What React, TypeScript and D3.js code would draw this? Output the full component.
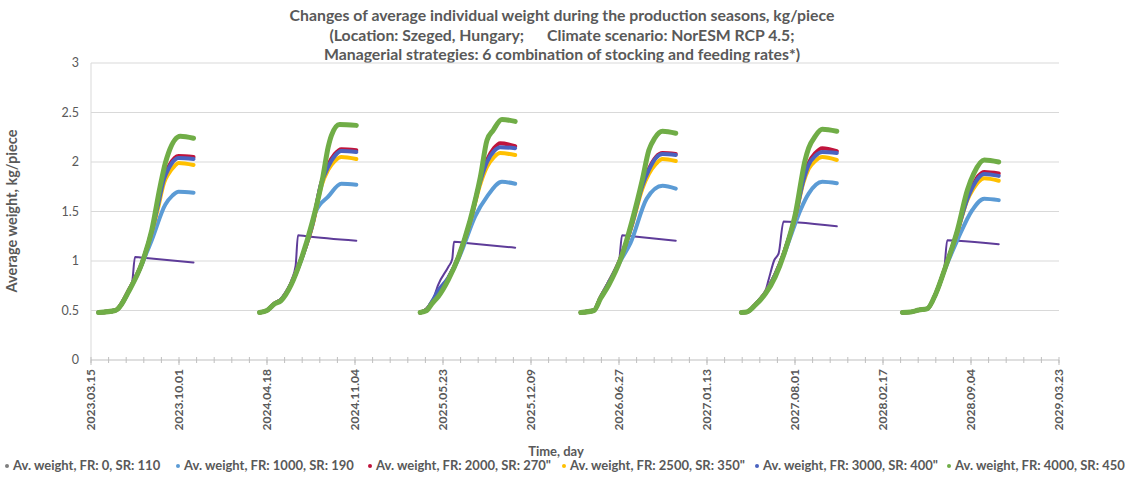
import React from 'react';
import * as d3 from 'd3';

// chart values
const seriesNames = [
  'Av. weight, FR: 0, SR: 110',
  'Av. weight, FR: 1000, SR: 190',
  'Av. weight, FR: 2000, SR: 270"',
  'Av. weight, FR: 2500, SR: 350"',
  'Av. weight, FR: 3000, SR: 400"',
  'Av. weight, FR: 4000, SR: 450"',
];
const seriesColors = ['#5e3c99', '#5b9bd5', '#c0143c', '#ffc000', '#4a63c0', '#70ad47'];
const markerColors = ['#7f7f7f', '#5b9bd5', '#c0143c', '#ffc000', '#4a63c0', '#70ad47'];

// first day of every season (1 April), counted from 2023.03.15
const seasonStartDays = [17, 383, 748, 1113, 1478, 1844];

// [day within season, kg/piece], one list per season
const fr0 = [
  [[0, 0.48], [38, 0.5], [72, 0.72], [77, 0.8], [83, 1.04], [96, 1.035], [216, 0.985]],
  [[0, 0.48], [17, 0.5], [34, 0.57], [49, 0.61], [72, 0.8], [82, 0.95], [87.5, 1.26], [106, 1.25], [220, 1.205]],
  [[0, 0.48], [15, 0.51], [27, 0.58], [41, 0.76], [64, 0.94], [73, 1.02], [77, 1.195], [110, 1.18], [216, 1.135]],
  [[0, 0.48], [30, 0.5], [45, 0.63], [64, 0.8], [83, 0.96], [87.5, 1.01], [94, 1.26], [117, 1.25], [216, 1.205]],
  [[0, 0.48], [12.5, 0.485], [32, 0.56], [55, 0.7], [62, 0.81], [75, 1.01], [85, 1.08], [96, 1.4], [130, 1.39], [217, 1.35]],
  [[0, 0.48], [19, 0.485], [37.5, 0.505], [57, 0.52], [76, 0.67], [90, 0.81], [96, 0.95], [102, 1.21], [125, 1.205], [219, 1.17]],
];
const fr1000 = [
  [[0, 0.48], [38, 0.5], [72, 0.72], [99, 0.97], [110, 1.09], [121, 1.21], [152, 1.57], [168, 1.66], [182, 1.7], [216, 1.69]],
  [[0, 0.48], [17, 0.5], [34, 0.57], [49, 0.61], [72, 0.77], [94, 1.0], [106, 1.16], [128, 1.5], [156, 1.65], [186, 1.78], [220, 1.77]],
  [[0, 0.48], [15, 0.51], [27, 0.58], [41, 0.66], [64, 0.82], [87, 1.02], [98, 1.14], [125, 1.45], [152, 1.65], [186, 1.8], [216, 1.78]],
  [[0, 0.48], [30, 0.5], [45, 0.63], [64, 0.78], [90, 1.0], [113, 1.18], [150, 1.63], [186, 1.76], [216, 1.73]],
  [[0, 0.48], [12.5, 0.485], [32, 0.56], [55, 0.68], [77, 0.86], [100, 1.1], [114.5, 1.28], [135, 1.52], [153, 1.68], [184, 1.8], [217, 1.785]],
  [[0, 0.48], [19, 0.485], [37.5, 0.505], [57, 0.52], [76, 0.67], [98, 0.93], [125, 1.21], [159, 1.515], [186, 1.63], [219, 1.615]],
];
const fr2000 = [
  [[0, 0.48], [38, 0.5], [72, 0.73], [99, 0.98], [121, 1.3], [135, 1.56], [149, 1.84], [159, 1.95], [173, 2.04], [182, 2.06], [216, 2.05]],
  [[0, 0.48], [17, 0.5], [34, 0.57], [49, 0.61], [72, 0.77], [94, 1.01], [121, 1.38], [140, 1.78], [156, 1.97], [171, 2.08], [186, 2.13], [220, 2.12]],
  [[0, 0.48], [15, 0.51], [27, 0.58], [41, 0.66], [64, 0.82], [87, 1.04], [113.5, 1.4], [137, 1.82], [152, 2.02], [168, 2.14], [182, 2.19], [216, 2.16]],
  [[0, 0.48], [30, 0.5], [45, 0.63], [64, 0.78], [90, 1.02], [117, 1.38], [140, 1.76], [155, 1.93], [171, 2.05], [186, 2.09], [216, 2.08]],
  [[0, 0.48], [12.5, 0.485], [32, 0.56], [55, 0.68], [77, 0.86], [100, 1.12], [123, 1.46], [141, 1.82], [153, 1.99], [168, 2.09], [184, 2.14], [217, 2.11]],
  [[0, 0.48], [19, 0.485], [37.5, 0.505], [57, 0.52], [76, 0.67], [98, 0.94], [125, 1.3], [148, 1.64], [160, 1.76], [173, 1.86], [186, 1.9], [219, 1.885]],
];
const fr2500 = [
  [[0, 0.48], [38, 0.5], [72, 0.73], [99, 0.98], [121, 1.29], [135, 1.53], [149, 1.79], [159, 1.88], [173, 1.96], [182, 1.99], [216, 1.97]],
  [[0, 0.48], [17, 0.5], [34, 0.57], [49, 0.61], [72, 0.77], [94, 1.01], [121, 1.37], [140, 1.75], [156, 1.92], [171, 2.01], [186, 2.05], [220, 2.03]],
  [[0, 0.48], [15, 0.51], [27, 0.58], [41, 0.66], [64, 0.82], [87, 1.04], [113.5, 1.39], [137, 1.78], [152, 1.95], [168, 2.05], [182, 2.09], [216, 2.07]],
  [[0, 0.48], [30, 0.5], [45, 0.63], [64, 0.78], [90, 1.02], [117, 1.37], [140, 1.73], [155, 1.88], [171, 1.98], [186, 2.03], [216, 2.01]],
  [[0, 0.48], [12.5, 0.485], [32, 0.56], [55, 0.68], [77, 0.86], [100, 1.12], [123, 1.45], [141, 1.79], [153, 1.93], [168, 2.01], [184, 2.05], [217, 2.02]],
  [[0, 0.48], [19, 0.485], [37.5, 0.505], [57, 0.52], [76, 0.67], [98, 0.94], [125, 1.29], [148, 1.62], [160, 1.72], [173, 1.8], [186, 1.835], [219, 1.81]],
];
const fr3000 = [
  [[0, 0.48], [38, 0.5], [72, 0.73], [99, 0.98], [121, 1.3], [135, 1.56], [149, 1.83], [159, 1.93], [173, 2.02], [182, 2.04], [216, 2.03]],
  [[0, 0.48], [17, 0.5], [34, 0.57], [49, 0.61], [72, 0.77], [94, 1.01], [121, 1.38], [140, 1.78], [156, 1.95], [171, 2.06], [186, 2.11], [220, 2.1]],
  [[0, 0.48], [15, 0.51], [27, 0.59], [41, 0.7], [64, 0.83], [87, 1.04], [113.5, 1.4], [137, 1.81], [152, 2.0], [168, 2.11], [182, 2.15], [216, 2.14]],
  [[0, 0.48], [30, 0.5], [45, 0.63], [64, 0.78], [90, 1.02], [117, 1.38], [140, 1.76], [155, 1.92], [171, 2.04], [186, 2.08], [216, 2.07]],
  [[0, 0.48], [12.5, 0.485], [32, 0.56], [55, 0.68], [77, 0.86], [100, 1.12], [123, 1.46], [141, 1.81], [153, 1.97], [168, 2.06], [184, 2.1], [217, 2.09]],
  [[0, 0.48], [19, 0.485], [37.5, 0.505], [57, 0.52], [76, 0.67], [98, 0.94], [125, 1.3], [148, 1.63], [160, 1.75], [173, 1.84], [186, 1.88], [219, 1.86]],
];
const fr4000 = [
  [[0, 0.48], [38, 0.5], [72, 0.72], [99, 0.98], [121, 1.31], [140, 1.75], [152, 1.99], [159, 2.09], [186, 2.26], [216, 2.24]],
  [[0, 0.48], [17, 0.5], [34, 0.566], [49, 0.6], [72, 0.76], [94, 1.01], [121, 1.41], [144, 1.85], [156, 2.15], [163.5, 2.27], [182, 2.38], [220, 2.37]],
  [[0, 0.48], [15, 0.5], [27, 0.57], [41, 0.64], [64, 0.81], [87, 1.04], [113.5, 1.41], [137, 1.85], [152, 2.22], [166, 2.32], [186, 2.43], [216, 2.41]],
  [[0, 0.48], [30, 0.5], [45, 0.62], [64, 0.76], [90, 1.01], [117, 1.41], [140, 1.82], [155, 2.12], [168, 2.24], [186, 2.31], [216, 2.29]],
  [[0, 0.48], [12.5, 0.485], [32, 0.555], [55, 0.67], [77, 0.84], [100, 1.11], [123, 1.48], [145, 2.02], [153, 2.14], [168, 2.26], [184, 2.33], [217, 2.31]],
  [[0, 0.48], [19, 0.485], [37.5, 0.505], [57, 0.52], [76, 0.67], [98, 0.94], [125, 1.31], [148, 1.72], [162.5, 1.885], [186, 2.02], [219, 2.0]],
];
const seriesData = [fr0, fr1000, fr2000, fr2500, fr3000, fr4000];
const strokeWidths = [2, 4, 4, 4, 4, 5];

const yTicks = [0, 0.5, 1, 1.5, 2, 2.5, 3];
const xTickDays = [0, 200, 400, 600, 800, 1000, 1200, 1400, 1600, 1800, 2000, 2200];
const titleLines = [
  'Changes of average individual weight during the production seasons, kg/piece',
  '(Location: Szeged, Hungary;      Climate scenario: NorESM RCP 4.5;',
  'Managerial strategies: 6 combination of stocking and feeding rates*)',
];

const W = 1125;
const H = 479;
const baseDate = new Date(2023, 2, 15);
const fmt = d3.timeFormat('%Y.%m.%d');
const font = 'Lato, "Open Sans", sans-serif';
const textColor = '#595959';

export default function App() {
  const x = d3.scaleLinear().domain([0, 2200]).range([91, 1059]);
  const y = d3.scaleLinear().domain([0, 3]).range([360, 63]);
  const minorDays = d3.range(0, 2201, 40);

  const line = d3.line<number[]>()
    .x(d => x(d[0]))
    .y(d => y(d[1]))
    .curve(d3.curveMonotoneX);

  // legend entry left edges
  const legendX = [4, 175, 367, 561, 754, 946];

  return (
    <svg width={W} height={H} style={{ position: 'absolute', left: 0, top: 0, background: '#fff' }}
      fontFamily={font}>
      {titleLines.map((t, i) => (
        <text key={i} x={562} y={21 + i * 19.5} textAnchor="middle" fontSize={15.8} fontWeight="bold" fill={textColor}
          style={{ whiteSpace: 'pre' }}>{t}</text>
      ))}

      {yTicks.map(t => (
        <g key={t}>
          {t > 0 && <line x1={91} x2={1059} y1={y(t)} y2={y(t)} stroke="#d9d9d9" strokeWidth={1} />}
          <text x={79} y={y(t)} dy="0.35em" textAnchor="end" fontSize={12.5} fill={textColor}>{t}</text>
        </g>
      ))}
      <line x1={91} x2={91} y1={63} y2={360} stroke="#d9d9d9" />
      <line x1={91} x2={1059} y1={360} y2={360} stroke="#bfbfbf" />
      {minorDays.map(d => (
        <line key={'m' + d} x1={x(d)} x2={x(d)} y1={357} y2={363} stroke="#bfbfbf" />
      ))}
      {xTickDays.map(d => (
        <g key={d}>
          <line x1={x(d)} x2={x(d)} y1={360} y2={365} stroke="#bfbfbf" />
          <text transform={`translate(${x(d)},369) rotate(-90)`} dy="0.35em" textAnchor="end" fontSize={12}
            fill={textColor} fontWeight="bold">{fmt(d3.timeDay.offset(baseDate, d))}</text>
        </g>
      ))}

      <text transform="translate(17,211) rotate(-90)" textAnchor="middle" fontSize={14.5} fontWeight="bold"
        fill={textColor}>Average weight, kg/piece</text>
      <text x={556} y={456} textAnchor="middle" fontSize={13} fontWeight="bold" fill={textColor}>Time, day</text>

      {seriesData.map((seasons, si) => (
        <g key={si}>
          {seasons.map((pts, k) => (
            <path key={k}
              d={line(pts.map(p => [p[0] + seasonStartDays[k], p[1]])) || ''}
              fill="none" stroke={seriesColors[si]} strokeWidth={strokeWidths[si]}
              strokeLinejoin="round" strokeLinecap="round" />
          ))}
        </g>
      ))}

      {seriesNames.map((n, i) => (
        <g key={n} transform={`translate(${legendX[i]},470)`}>
          <circle cx={3} cy={-4} r={2} fill={markerColors[i]} />
          <text x={9} y={0} fontSize={13} fontWeight="bold" fill={textColor}>{n}</text>
        </g>
      ))}
    </svg>
  );
}
